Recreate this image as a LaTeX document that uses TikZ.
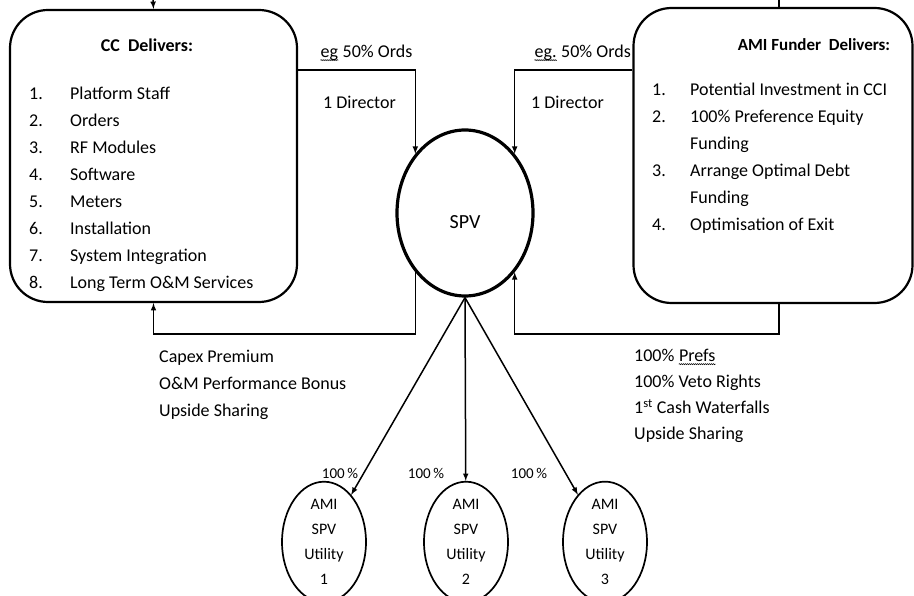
\documentclass[tikz,border=0pt]{standalone}
\usepackage{fontspec}
\setmainfont{Carlito}
\usetikzlibrary{arrows,shapes.geometric,decorations.pathmorphing}
\newcommand\squig[1]{\tikz[baseline=(sq.base)]{\node[inner sep=0pt,anchor=center] (sq) {#1};
  \draw[line width=0.6pt,decorate,decoration={snake,amplitude=0.5pt,segment length=2pt}] ([yshift=-2.5pt]sq.base west) -- ([yshift=-2.5pt]sq.base east);}}

\begin{document}
\begin{tikzpicture}[x=1pt,y=-1pt,>=latex,
  party/.style={draw,line width=2.2pt,rounded corners=38pt,inner sep=0pt},
  util/.style={draw,ellipse,line width=1.7pt,minimum width=84pt,minimum height=108pt,inner sep=0pt,align=center,font=\fontsize{16}{25}\selectfont},
  link/.style={line width=1.5pt},
  lbl/.style={anchor=west,inner sep=0pt,align=left,font=\fontsize{18}{27}\selectfont}]
\useasboundingbox (0,0) rectangle (914,596);
\fill[white] (0,0) rectangle (914,596);
% the two parties and the SPV
\node[party,minimum width=287pt,minimum height=292pt] (cc) at (153.5,156) {};
\node[party,minimum width=279pt,minimum height=295pt] (amif) at (773,155.5) {};
\node[draw,ellipse,line width=3.2pt,minimum width=136pt,minimum height=166pt,inner sep=0pt,
  label={[yshift=-9pt,font=\fontsize{20}{24}\selectfont]center:SPV}] (spv) at (465,213) {};
\node[lbl,anchor=center,font=\bfseries\fontsize{18}{27}\selectfont] (ccHead) at (147,45) {CC~~Delivers:};
\node[lbl,anchor=north west] (ccList) at (29,80) {\begin{tabular}{@{}p{41pt}@{}l@{}}
1. & Platform Staff\\ 2. & Orders\\ 3. & RF Modules\\ 4. & Software\\
5. & Meters\\ 6. & Installation\\ 7. & System Integration\\ 8. & Long Term O\&M Services
\end{tabular}};
\node[lbl,anchor=center,font=\bfseries\fontsize{17}{27}\selectfont] (amifHead) at (814,45) {AMI Funder~~Delivers:};
\node[lbl,anchor=north west] (amifList) at (652,76) {\begin{tabular}{@{}p{38pt}@{}l@{}}
1. & Potential Investment in CCI\\ 2. & 100\% Preference Equity\\ & Funding\\
3. & Arrange Optimal Debt\\ & Funding\\ 4. & Optimisation of Exit
\end{tabular}};
% control and payments
\node[lbl] (ordsL) at (320,53) {\squig{eg} 50\% Ords};
\node[lbl] (dirL) at (323,102) {1 Director};
\node[lbl] (ordsR) at (534,53) {\squig{eg.} 50\% Ords};
\node[lbl] (dirR) at (531,102) {1 Director};
\node[lbl] (payCC) at (159,385) {Capex Premium\\O\&M Performance Bonus\\Upside Sharing};
\node[lbl,font=\fontsize{18}{26}\selectfont] (payAMI) at (634,396) {100\% \squig{Prefs}\\100\% Veto Rights\\1\textsuperscript{st} Cash Waterfalls\\Upside Sharing};
\coordinate (ccIn) at (153,0);
\coordinate (amifOut) at (779,0);
\draw[link,->] (ccIn) -- (cc.north);
\draw[link] (amif.north -| amifOut) -- (amifOut);
\draw[link,->] (cc.east |- 0,70) -| (spv.130);
\draw[link,->] (amif.west |- 0,70) -| (spv.50);
\draw[link,->] (spv.230) -- ++(0,62) -| (cc.south);
\draw[link,->] (amif.south -| amifOut) -- ++(0,30) -| (spv.310);
% utilities
\foreach \x/\n in {324/1,466/2,605/3}{
  \node[util] (u\n) at (\x,542) {AMI\\SPV\\Utility\\\n};
  \draw[link,->] (spv.south) -- (u\n);
}
\foreach \x/\n in {340/1,426/2,529/3}
  \node[inner sep=0pt,font=\fontsize{15}{18}\selectfont] (pct\n) at (\x,473) {100\,\%};
\end{tikzpicture}
\end{document}
